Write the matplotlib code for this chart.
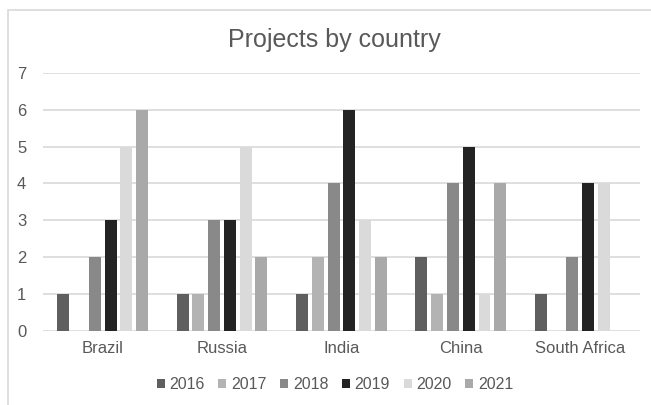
import matplotlib
matplotlib.use("Agg")
import matplotlib.pyplot as plt
import numpy as np
from matplotlib.patches import Rectangle

countries = ["Brazil", "Russia", "India", "China", "South Africa"]
years = ["2016", "2017", "2018", "2019", "2020", "2021"]
values = {
    "2016": [1, 1, 1, 2, 1],
    "2017": [0, 1, 2, 1, 0],
    "2018": [2, 3, 4, 4, 2],
    "2019": [3, 3, 6, 5, 4],
    "2020": [5, 5, 3, 1, 4],
    "2021": [6, 2, 2, 4, 0],
}
colors = ["#5f5f5f", "#b3b3b3", "#898989", "#232323", "#dadada", "#a9a9a9"]

plt.rcParams["font.family"] = ["Liberation Sans", "DejaVu Sans"]
text_color = "#595959"

fig = plt.figure(figsize=(6.51, 4.05), dpi=100)
ax = fig.add_axes([0.066, 0.183, 0.917, 0.637])

x = np.arange(len(countries))
slot = 0.132
width = 0.10
for i, (yr, col) in enumerate(zip(years, colors)):
    offs = (i - (len(years) - 1) / 2) * slot
    ax.bar(x + offs, values[yr], width=width, color=col, label=yr, zorder=3)

ax.set_xlim(-0.5, len(countries) - 0.5)
ax.set_ylim(0, 7)
ax.set_yticks(range(0, 8))
ax.set_xticks(x)
ax.set_xticklabels(countries)
ax.grid(axis="y", color="#d9d9d9", linewidth=1.2, zorder=0)
ax.tick_params(axis="both", length=0, labelsize=12, colors=text_color)
ax.tick_params(axis="y", pad=12)
ax.tick_params(axis="x", pad=7)
for s in ax.spines.values():
    s.set_visible(False)

fig.text(0.513, 0.900, "Projects by country", ha="center", va="center",
         fontsize=18, color=text_color)

leg = ax.legend(loc="center", bbox_to_anchor=(0.489, -0.208), ncol=6, frameon=False,
                fontsize=11.5, handlelength=0.5, handleheight=0.5, handletextpad=0.3,
                columnspacing=0.85)
for t in leg.get_texts():
    t.set_color(text_color)

# chart area border
fig.patches.append(Rectangle((8 / 651, -0.1), 1.2, 1 - 10 / 405 + 0.1,
                             transform=fig.transFigure, fill=False,
                             edgecolor="#d9d9d9", linewidth=1.2))

fig.savefig("out.png", dpi=100, facecolor="white")
